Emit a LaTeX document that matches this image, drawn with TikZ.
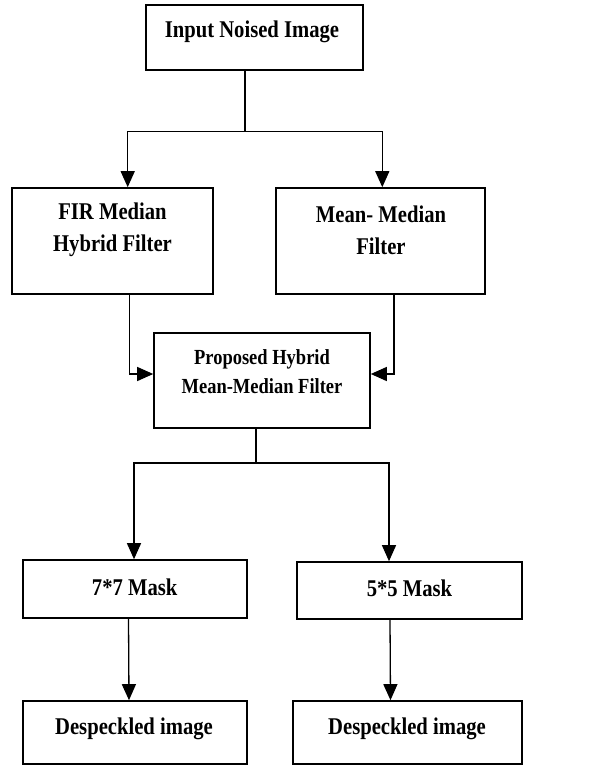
\documentclass[tikz,border=0pt]{standalone}
\usepackage{fontspec}
\setmainfont[FakeStretch=0.86]{Liberation Serif}
\usetikzlibrary{arrows.meta}
\tikzset{
  box/.style={draw, line width=1.6pt, inner sep=0pt},
  lbl/.style={font=\fontsize{24}{32}\selectfont\bfseries, align=center, inner sep=0pt},
  flow/.style={line width=1.3pt},
  arr/.style={flow, -{Triangle[length=16pt,width=14pt]}}
}
\begin{document}
\begin{tikzpicture}[x=1pt,y=-1pt]
    \useasboundingbox (0,0) rectangle (603,765);
    % boxes
    \node[box, minimum width=217, minimum height=65] (input) at (254.5,37.5) {};
    \node[box, minimum width=201, minimum height=106] (fir) at (112.5,241) {};
    \node[box, minimum width=209, minimum height=106] (mean) at (380.5,241) {};
    \node[box, minimum width=216, minimum height=95] (prop) at (262,380.5) {};
    \node[box, minimum width=224, minimum height=58] (mask7) at (135,589) {};
    \node[box, minimum width=225, minimum height=57] (mask5) at (409.5,590.5) {};
    \node[box, minimum width=224, minimum height=63] (desp1) at (135,732.5) {};
    \node[box, minimum width=229, minimum height=63] (desp2) at (407.5,732.5) {};
    % texts
    \node[lbl] (inputtxt) at (252,32) {Input Noised Image};
    \node[lbl] (firtxt) at (112.5,230) {FIR Median\\Hybrid Filter};
    \node[lbl] (meantxt) at (381,230) {Mean- Median\\Filter};
    \node[lbl, font=\fontsize{21.5}{29}\selectfont\bfseries] (proptxt) at (262,372) {Proposed Hybrid\\Mean-Median Filter};
    \node[lbl] (mask7txt) at (134.7,587) {7*7 Mask};
    \node[lbl] (mask5txt) at (409.5,588.5) {5*5 Mask};
    \node[lbl] (desp1txt) at (134,729) {Despeckled image};
    \node[lbl] (desp2txt) at (407,729) {Despeckled image};
    % junctions
    \coordinate (j1) at (245,131.7);
    \coordinate (j1l) at (127.7,131.7);
    \coordinate (j1r) at (382.3,131.7);
    \coordinate (j2l) at (129.3,374);
    \coordinate (j2r) at (394,374);
    \coordinate (j3) at (256,463);
    \coordinate (j3l) at (134,463);
    \coordinate (j3r) at (389,463);
    % connectors
    \draw[flow] (input.south -| j1) -- (j1);
    \draw[arr] (j1) -- (j1l) -- (j1l |- fir.north);
    \draw[arr] (j1) -- (j1r) -- (j1r |- mean.north);
    \draw[arr] (fir.south -| j2l) -- (j2l) -- (j2l -| prop.west);
    \draw[arr] (mean.south -| j2r) -- (j2r) -- (j2r -| prop.east);
    \draw[flow] (prop.south -| j3) -- (j3);
    \draw[arr] (j3) -- (j3l) -- (j3l |- mask7.north);
    \draw[arr] (j3) -- (j3r) -- (j3r |- mask5.north);
    \draw[arr] ([xshift=-6.5]mask7.south) -- ([xshift=-6]desp1.north);
    \draw[arr] ([xshift=-19.5]mask5.south) -- ([xshift=-17]desp2.north);
\end{tikzpicture}
\end{document}
